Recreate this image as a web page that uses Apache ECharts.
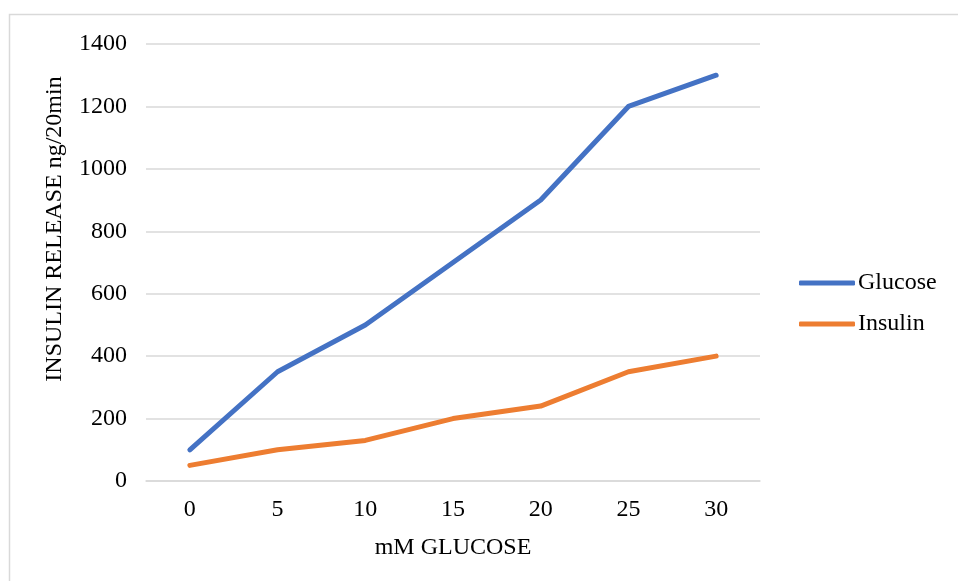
<!DOCTYPE html>
<html><head><meta charset="utf-8">
<script src="https://cdn.jsdelivr.net/npm/echarts@6/dist/echarts.min.js"></script>
<style>html,body{margin:0;padding:0;background:#fff}#c{width:958px;height:581px}</style>
</head><body><div id="c"></div>
<script>
var categories = ['0','5','10','15','20','25','30'];
var glucose = [100, 350, 500, 700, 900, 1200, 1300];
var insulin = [50, 100, 130, 200, 240, 350, 400];
var seriesNames = ['Glucose','Insulin'];
var xTitle = 'mM GLUCOSE';
var yTitle = 'INSULIN RELEASE ng/20min';

var FONT = '"Liberation Serif","Times New Roman",serif';
var chart = echarts.init(document.getElementById('c'));
chart.setOption({
  animation: false,
  backgroundColor: '#fff',
  grid: {left: 146, right: 198, top: 44, bottom: 100},
  graphic: [
    {type:'rect', shape:{x:9.5,y:14.5,width:1200,height:1200}, style:{fill:'none', stroke:'#d9d9d9', lineWidth:1.5}, silent:true},
    {type:'text', x:453, y:548, style:{text:xTitle, font:'24px '+FONT, fill:'#000', align:'center', verticalAlign:'middle'}},
    {type:'text', x:55, y:229, rotation:Math.PI/2, style:{text:yTitle, font:'24px '+FONT, fill:'#000', align:'center', verticalAlign:'middle'}}
  ],
  legend: {
    orient: 'vertical', left: 794, top: 266,
    itemWidth: 56, itemHeight: 5, itemGap: 17,
    icon: 'roundRect',
    textStyle: {fontFamily: FONT, fontSize: 24, color: '#000', lineHeight: 24, padding:[0,0,0,-2]},
    data: seriesNames
  },
  xAxis: {
    type: 'category', data: categories, boundaryGap: true,
    axisLine: {lineStyle: {color: '#d9d9d9', width: 1.5}},
    axisTick: {show: false},
    axisLabel: {fontFamily: FONT, fontSize: 24, color: '#000', margin: 17}
  },
  yAxis: {
    type: 'value', min: 0, max: 1400, interval: 200,
    axisLine: {show: false}, axisTick: {show: false},
    splitLine: {lineStyle: {color: '#d9d9d9', width: 1.5}},
    axisLabel: {fontFamily: FONT, fontSize: 24, color: '#000', margin: 19,
      formatter: function (v) { return String(v); }}
  },
  series: [
    {name: seriesNames[0], type: 'line', data: glucose, showSymbol: false, color: '#4472C4',
     lineStyle: {width: 5, color: '#4472C4', cap: 'round', join: 'round'}},
    {name: seriesNames[1], type: 'line', data: insulin, showSymbol: false, color: '#ED7D31',
     lineStyle: {width: 5, color: '#ED7D31', cap: 'round', join: 'round'}}
  ]
});
</script></body></html>
